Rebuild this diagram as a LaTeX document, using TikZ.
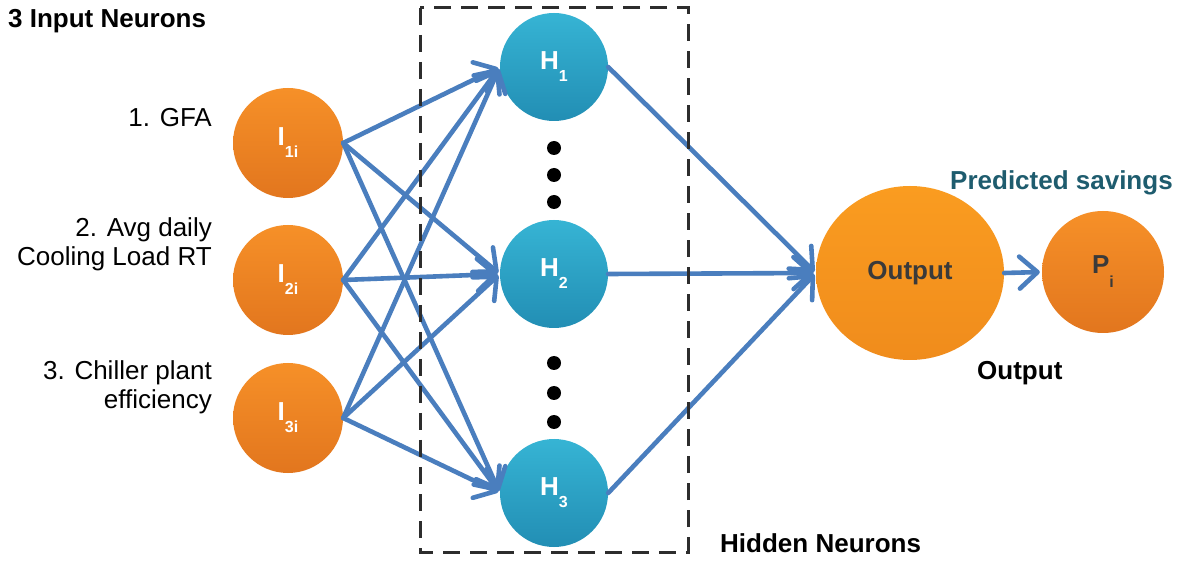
\documentclass[tikz,border=0pt]{standalone}
\usepackage{fontspec}
\setmainfont{Liberation Sans}
\usetikzlibrary{arrows.meta,shapes.geometric}
\definecolor{arrblue}{RGB}{74,126,190}
\definecolor{inTop}{RGB}{246,144,40}
\definecolor{inBot}{RGB}{226,118,30}
\definecolor{outTop}{RGB}{250,156,32}
\definecolor{outBot}{RGB}{240,140,28}
\definecolor{hTop}{RGB}{54,180,212}
\definecolor{hBot}{RGB}{34,142,180}
\definecolor{predteal}{RGB}{30,92,110}
\definecolor{darktext}{RGB}{58,58,58}
\definecolor{boxgray}{RGB}{45,45,45}
\begin{document}
\begin{tikzpicture}[x=1pt,y=-1pt,
  bigfont/.style={font=\bfseries\fontsize{26}{26}\selectfont},
  inode/.style={circle, minimum size=110pt, inner sep=0pt, top color=inTop, bottom color=inBot, text=white, bigfont},
  hnode/.style={circle, minimum size=108pt, inner sep=0pt, top color=hTop, bottom color=hBot, text=white, bigfont},
  onode/.style={ellipse, minimum width=188pt, minimum height=174pt, inner sep=0pt, top color=outTop, bottom color=outBot, text=darktext, bigfont},
  pnode/.style={circle, minimum size=122pt, inner sep=0pt, top color=inTop, bottom color=inBot, text=darktext, bigfont},
  lbl/.style={inner sep=0pt, bigfont},
  txt/.style={inner sep=0pt, font=\fontsize{26}{26}\selectfont},
  arr/.style={draw=arrblue, line width=4.6pt, line cap=round, shorten >=2pt,
    -{Straight Barb[length=18pt,width=32pt,round]}},
  dotm/.style={circle, fill=black, minimum size=14pt, inner sep=0pt}
]
\useasboundingbox (0,0) rectangle (1187,561);
\fill[white] (0,0) rectangle (1187,561);

% input nodes
\node[inode] (I1) at (288,143) {I\raisebox{-12pt}{\fontsize{16}{16}\selectfont 1i}};
\node[inode] (I2) at (288,280) {I\raisebox{-12pt}{\fontsize{16}{16}\selectfont 2i}};
\node[inode] (I3) at (288,418) {I\raisebox{-12pt}{\fontsize{16}{16}\selectfont 3i}};

% hidden nodes
\node[hnode] (H1) at (554,67) {H\raisebox{-12pt}{\fontsize{16}{16}\selectfont 1}};
\node[hnode] (H2) at (554,274) {H\raisebox{-12pt}{\fontsize{16}{16}\selectfont 2}};
\node[hnode] (H3) at (554,493) {H\raisebox{-12pt}{\fontsize{16}{16}\selectfont 3}};

% output
\node[onode] (O) at (910,273) {Output};
\node[pnode] (P) at (1103,272) {P\raisebox{-14pt}{\fontsize{16}{16}\selectfont i}};

% dots
\node[dotm] (d1) at (554,148) {};
\node[dotm] (d2) at (554,175) {};
\node[dotm] (d3) at (554,202) {};
\node[dotm] (d4) at (554,363) {};
\node[dotm] (d5) at (554,393) {};
\node[dotm] (d6) at (554,422) {};

% connections input -> hidden
\foreach \i in {I1,I2,I3}{
  \foreach \h in {H1,H2,H3}{
    \draw[arr] (\i.east) -- (\h.west);
  }
}
% hidden -> output
\foreach \h in {H1,H2,H3}{
  \draw[arr] (\h.east) -- (O.west);
}
\draw[arr] (O.east) -- (P.west);

% dashed box
\draw[boxgray, line width=3pt, dash pattern=on 17pt off 10pt] (420,8) rectangle (688,552);

% labels
\node[lbl, anchor=base west] (tin) at (8,28) {3 Input Neurons};
\node[txt, anchor=base east] (t1) at (212,127) {1. GFA};
\node[txt, anchor=base east] (t2a) at (212,237) {2. Avg daily};
\node[txt, anchor=base east] (t2b) at (212,266) {Cooling Load RT};
\node[txt, anchor=base east] (t3a) at (212,380) {3. Chiller plant};
\node[txt, anchor=base east] (t3b) at (212,409) {efficiency};
\node[lbl, anchor=base west, text=predteal] (tps) at (950,190) {Predicted savings};
\node[lbl, anchor=base west] (tout) at (977,380) {Output};
\node[lbl, anchor=base west] (thid) at (720,552) {Hidden Neurons};
\end{tikzpicture}
\end{document}
